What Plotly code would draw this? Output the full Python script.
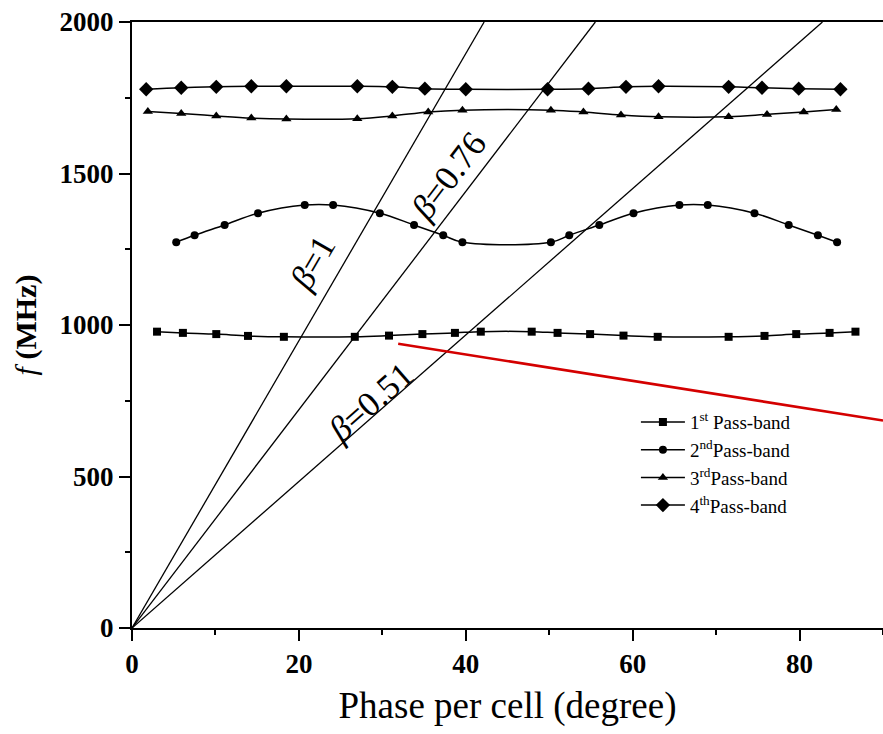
import plotly.graph_objects as go

# ---- dispersion data (phase per cell in degrees, frequency in MHz) ----
band1_phase = [3.0, 6.1, 10.1, 13.9, 18.2, 26.7, 30.8, 34.8, 38.7, 41.8,
               47.9, 51.0, 54.9, 58.9, 63.0, 71.5, 75.8, 79.6, 83.6, 86.7]
band1_freq = [978, 974, 970, 964, 961, 961, 965, 970, 974, 978,
              978, 974, 970, 965, 961, 961, 964, 970, 974, 978]

band2_phase = [5.3, 7.5, 11.1, 15.1, 20.7, 24.1, 29.7, 33.8, 37.3, 39.6,
               50.2, 52.4, 56.0, 60.1, 65.6, 69.0, 74.6, 78.7, 82.2, 84.5]
band2_freq = [1273, 1296, 1330, 1369, 1396, 1396, 1369, 1330, 1296, 1273,
              1273, 1296, 1330, 1369, 1396, 1396, 1369, 1330, 1296, 1273]

band3_phase = [1.9, 5.9, 10.1, 14.3, 18.5, 27.0, 31.2, 35.5, 39.6,
               50.2, 54.1, 58.6, 63.1, 71.5, 76.1, 80.5, 84.4]
band3_freq = [1705, 1698, 1690, 1683, 1680, 1681, 1690, 1703, 1709,
              1709, 1703, 1693, 1687, 1687, 1695, 1703, 1711]

band4_phase = [1.7, 5.9, 10.1, 14.3, 18.5, 27.0, 31.2, 35.1, 40.0,
               49.8, 54.7, 59.2, 63.1, 71.5, 75.5, 79.9, 84.9]
band4_freq = [1778, 1783, 1786, 1788, 1788, 1788, 1786, 1780, 1778,
              1778, 1780, 1786, 1788, 1786, 1783, 1780, 1778]

band_names = ["1<sup>st</sup> Pass-band", "2<sup>nd</sup>Pass-band",
              "3<sup>rd</sup>Pass-band", "4<sup>th</sup>Pass-band"]
band_symbols = ["square", "circle", "triangle-up", "diamond"]
band_sizes = [8, 8, 9, 11]

# speed-of-light lines: phase reached at 2000 MHz for beta = 1
betas = [1.0, 0.76, 0.51]
beta_labels = ["<i>β</i>=1", "<i>β</i>=0.76", "<i>β</i>=0.51"]
phase_top_beta1 = 42.2
f_top = 2000
label_phase = [21.7, 37.9, 28.6]
label_freq = [1205, 1490, 745]
label_angle = [-60, -52.7, -41.3]

# extra reference line
red_phase = [31.9, 90]
red_freq = [938, 685]

FONT = "Liberation Serif"

fig = go.Figure()

for b in betas:
    fig.add_trace(go.Scatter(
        x=[0, phase_top_beta1 / b], y=[0, f_top], mode="lines",
        line=dict(color="black", width=1.3), showlegend=False,
        hoverinfo="skip"))

fig.add_trace(go.Scatter(
    x=red_phase, y=red_freq, mode="lines",
    line=dict(color="#d40000", width=2.6), showlegend=False))

bands = [(band1_phase, band1_freq), (band2_phase, band2_freq),
         (band3_phase, band3_freq), (band4_phase, band4_freq)]
for (px, fy), name, sym, sz in zip(bands, band_names, band_symbols, band_sizes):
    fig.add_trace(go.Scatter(
        x=px, y=fy, name=name, mode="lines+markers",
        line=dict(color="black", width=1.5, shape="spline", smoothing=1.0),
        marker=dict(symbol=sym, size=sz, color="black"),
    ))

for txt, lx, ly, ang in zip(beta_labels, label_phase, label_freq, label_angle):
    fig.add_annotation(x=lx, y=ly, text=txt, showarrow=False, textangle=ang,
                       font=dict(family=FONT, size=35, color="black"))

fig.update_layout(
    width=883, height=734,
    margin=dict(l=132, r=0, t=22, b=106),
    plot_bgcolor="white", paper_bgcolor="white",
    font=dict(family=FONT, color="black"),
    legend=dict(x=0.671, y=0.371, xanchor="left", yanchor="top",
                font=dict(family=FONT, size=19, color="black"),
                bgcolor="rgba(0,0,0,0)", tracegroupgap=0, itemwidth=44),
)

fig.update_xaxes(
    range=[0, 90], showgrid=False, zeroline=False,
    showline=True, linecolor="black", linewidth=2, mirror=True,
    ticks="outside", ticklen=11, tickwidth=2, tickcolor="black",
    tickvals=[0, 20, 40, 60, 80],
    tickfont=dict(family=FONT, size=27, color="black", weight="bold"),
    minor=dict(ticks="outside", ticklen=5, tickwidth=2, tickcolor="black",
               tickvals=[10, 30, 50, 70, 90]),
    title=dict(text="Phase per cell (degree)", standoff=14,
               font=dict(family=FONT, size=37, color="black")),
)

fig.update_yaxes(
    range=[0, 2000], showgrid=False, zeroline=False,
    showline=True, linecolor="black", linewidth=2, mirror=False,
    ticks="outside", ticklen=11, tickwidth=2, tickcolor="black",
    tickvals=[0, 500, 1000, 1500, 2000],
    tickfont=dict(family=FONT, size=27, color="black", weight="bold"),
    minor=dict(ticks="outside", ticklen=5, tickwidth=2, tickcolor="black",
               tickvals=[250, 750, 1250, 1750]),
    title=dict(text="<i>f</i> <b>(MHz)</b>", standoff=14,
               font=dict(family=FONT, size=30, color="black")),
)

fig.write_html("out.html")
